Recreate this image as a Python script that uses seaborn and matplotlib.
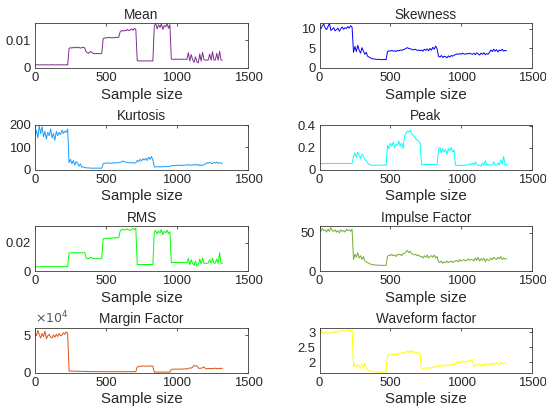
import numpy as np
import pandas as pd
import matplotlib
matplotlib.use("Agg")
import matplotlib.pyplot as plt
import seaborn as sns

# ---------------- data (one value every 10 samples) ----------------
sample_idx = list(range(0, 1321, 10))

mean_vals = [
    0.0011,0.0011,0.0012,0.0011,0.0011,0.0012,0.0011,0.0011,0.0012,0.0011,0.0011,0.0012,
    0.0011,0.0012,0.0011,0.0011,0.0012,0.0011,0.0011,0.0012,0.0011,0.0011,0.0012,0.0011,
    0.0070,0.0073,0.0071,0.0074,0.0072,0.0075,0.0072,0.0074,0.0071,0.0073,0.0074,0.0072,
    0.0058,0.0054,0.0053,0.0059,0.0056,0.0052,0.0051,0.0052,0.0051,0.0052,0.0051,0.0052,
    0.0105,0.0108,0.0107,0.0109,0.0108,0.0110,0.0107,0.0109,0.0108,0.0110,0.0109,0.0111,
    0.0130,0.0134,0.0132,0.0135,0.0133,0.0138,0.0134,0.0136,0.0140,0.0135,0.0142,0.0138,
    0.0026,0.0025,0.0026,0.0025,0.0025,0.0026,0.0025,0.0026,0.0025,0.0025,0.0026,0.0025,
    0.0150,0.0160,0.0140,0.0155,0.0145,0.0158,0.0138,0.0152,0.0147,0.0160,0.0142,0.0155,
    0.0032,0.0031,0.0031,0.0032,0.0031,0.0031,0.0032,0.0031,0.0031,0.0032,0.0031,0.0031,
    0.0055,0.0025,0.0048,0.0030,0.0020,0.0040,0.0022,0.0018,0.0050,0.0025,0.0056,0.0030,
    0.0028,0.0028,0.0029,0.0050,0.0028,0.0058,0.0028,0.0029,0.0052,0.0028,0.0060,0.0029,
    0.0028]

skew_vals = [
    10.5,10.0,10.8,11.2,10.2,9.8,10.6,11.4,9.6,9.9,10.3,9.5,
    9.8,10.2,9.4,10.0,10.5,9.9,10.3,10.1,10.6,10.2,10.8,10.4,
    4.0,5.5,4.2,5.8,4.5,3.8,5.2,4.3,3.5,4.0,3.0,2.8,
    2.6,2.4,2.3,2.3,2.2,2.2,2.2,2.2,2.1,2.2,2.2,2.1,
    4.2,4.4,4.3,4.5,4.3,4.4,4.2,4.5,4.4,4.6,4.5,4.7,
    4.8,5.0,5.2,5.0,4.9,4.8,4.6,4.8,4.7,4.5,4.6,4.4,
    4.6,4.3,4.8,4.5,4.9,4.4,5.0,4.6,5.3,4.8,5.6,4.9,
    3.0,2.8,3.2,2.7,3.0,2.9,2.6,3.1,2.8,3.2,3.0,3.3,
    3.4,3.6,3.5,3.7,3.5,3.8,3.6,3.5,3.7,3.6,3.8,3.6,
    3.5,3.8,3.4,3.9,3.6,3.3,3.8,3.5,3.9,3.4,3.7,3.5,
    4.0,4.6,4.2,4.8,4.3,4.7,4.1,4.6,4.4,4.8,4.3,4.5,
    4.4]

kurt_vals = [
    150,175,140,195,160,190,145,170,135,165,150,180,
    140,160,130,170,150,165,155,175,160,170,165,180,
    30,45,25,40,20,35,28,15,25,10,12,8,
    8,7,7,6,6,6,6,6,6,6,6,6,
    25,28,27,30,28,29,27,30,28,31,29,30,
    32,35,38,34,33,32,30,31,29,30,28,30,
    40,35,45,38,48,42,50,40,55,45,58,42,
    12,11,13,12,11,12,13,12,14,12,13,15,
    16,18,17,19,18,20,17,19,18,20,19,21,
    19,22,18,21,20,23,19,22,17,20,18,22,
    25,30,27,32,28,26,31,29,33,27,30,28,
    28]

peak_vals = [
    0.055,0.056,0.055,0.054,0.055,0.056,0.055,0.055,0.054,0.055,0.056,0.055,
    0.055,0.054,0.055,0.056,0.055,0.055,0.054,0.055,0.056,0.055,0.055,0.054,
    0.12,0.15,0.11,0.16,0.13,0.10,0.14,0.12,0.09,0.08,0.06,0.05,
    0.040,0.040,0.038,0.040,0.040,0.038,0.040,0.040,0.038,0.040,0.040,0.040,
    0.22,0.19,0.24,0.21,0.25,0.20,0.23,0.22,0.26,0.21,0.24,0.19,
    0.30,0.33,0.35,0.34,0.36,0.33,0.31,0.30,0.28,0.27,0.26,0.24,
    0.045,0.045,0.046,0.045,0.044,0.045,0.046,0.045,0.045,0.044,0.045,0.046,
    0.18,0.20,0.15,0.19,0.16,0.18,0.14,0.19,0.17,0.20,0.16,0.18,
    0.040,0.035,0.040,0.035,0.040,0.040,0.035,0.040,0.045,0.040,0.050,0.045,
    0.060,0.040,0.070,0.050,0.035,0.040,0.030,0.060,0.040,0.080,0.040,0.050,
    0.040,0.040,0.045,0.070,0.040,0.040,0.060,0.040,0.090,0.050,0.120,0.040,
    0.045]

rms_vals = [
    0.0031,0.0031,0.0031,0.0031,0.0031,0.0031,0.0031,0.0031,0.0031,0.0031,0.0031,0.0031,
    0.0031,0.0031,0.0031,0.0031,0.0031,0.0031,0.0031,0.0031,0.0031,0.0031,0.0031,0.0031,
    0.0128,0.0130,0.0129,0.0131,0.0130,0.0130,0.0129,0.0131,0.0130,0.0129,0.0130,0.0131,
    0.0092,0.0088,0.0090,0.0098,0.0093,0.0089,0.0087,0.0088,0.0087,0.0088,0.0087,0.0088,
    0.0228,0.0232,0.0230,0.0234,0.0231,0.0235,0.0232,0.0236,0.0233,0.0238,0.0235,0.0240,
    0.0285,0.0292,0.0298,0.0290,0.0295,0.0300,0.0292,0.0288,0.0296,0.0302,0.0294,0.0305,
    0.0046,0.0046,0.0046,0.0046,0.0046,0.0046,0.0046,0.0046,0.0046,0.0046,0.0046,0.0046,
    0.0275,0.0290,0.0262,0.0285,0.0270,0.0295,0.0258,0.0282,0.0272,0.0290,0.0265,0.0280,
    0.0060,0.0060,0.0060,0.0060,0.0060,0.0060,0.0060,0.0060,0.0060,0.0060,0.0060,0.0060,
    0.0090,0.0045,0.0080,0.0055,0.0040,0.0070,0.0035,0.0045,0.0085,0.0050,0.0092,0.0055,
    0.0055,0.0055,0.0056,0.0080,0.0055,0.0090,0.0055,0.0056,0.0085,0.0055,0.0130,0.0056,
    0.0055]

impulse_vals = [
    55,52,56,53,54,51,55,52,57,53,52,54,
    51,53,50,54,52,53,51,55,53,54,52,55,
    15,22,18,24,17,20,15,19,13,12,11,10,
    9,8.5,8,8,7.8,7.5,7.5,7.5,7.3,7.5,7.4,7.5,
    19,21,20,22,20,21,19,22,21,22,20,23,
    23,25,27,24,26,23,22,21,22,20,21,19,
    19,17,20,18,21,17,19,20,18,21,17,19,
    12,11,13,10,12,11,13,11,12,13,11,13,
    13,14,12,15,13,14,15,13,14,16,14,15,
    15,13,17,14,18,13,16,14,17,12,16,14,
    14,17,15,18,16,15,18,16,19,15,17,16,
    16]

margin_vals = [
    53000,49000,56000,50000,46000,52000,48000,55000,45000,49000,51000,47000,
    46000,50000,47000,51000,48000,52000,49000,50000,53000,51000,54000,52000,
    2000,1800,1900,1700,1800,1600,1700,1500,1600,1500,1400,1500,
    1300,1200,1300,1200,1200,1100,1200,1100,1100,1200,1100,1100,
    1000,1100,1000,1100,1000,1000,1100,1000,1000,1100,1000,1000,
    1000,1000,1100,1000,1000,1100,1000,1000,1100,1000,1000,1100,
    7500,8000,8500,8200,8800,8400,8600,8300,8700,8500,8800,8400,
    500,500,600,500,500,600,500,500,600,500,500,600,
    4000,4500,4200,4700,4400,4600,4300,4800,4500,4700,5000,4600,
    5500,6200,5800,7000,9500,8500,9000,6000,5500,5800,6200,7500,
    5200,4800,5500,5000,5600,4900,5300,5800,5000,5500,5200,5700,
    5500]

waveform_vals = [
    3.00,2.95,3.05,2.92,2.98,3.02,2.94,2.99,2.96,3.01,2.97,3.03,
    2.98,3.03,3.00,3.05,3.02,3.06,3.01,3.07,3.04,3.08,3.02,3.06,
    1.85,1.95,1.80,1.92,1.88,1.78,1.94,1.82,1.98,1.80,1.74,1.72,
    1.70,1.69,1.68,1.68,1.68,1.67,1.68,1.67,1.68,1.67,1.68,1.67,
    2.20,2.25,2.22,2.28,2.24,2.27,2.23,2.30,2.26,2.31,2.28,2.33,
    2.30,2.34,2.36,2.32,2.38,2.33,2.36,2.31,2.34,2.29,2.32,2.28,
    1.80,1.78,1.82,1.79,1.81,1.80,1.83,1.80,1.85,1.82,1.86,1.84,
    1.88,1.85,1.90,1.87,1.92,1.89,1.91,1.88,1.93,1.90,1.95,1.92,
    1.96,2.00,1.98,2.02,1.99,2.04,2.01,2.03,2.00,2.06,2.03,2.08,
    2.05,1.85,1.92,1.88,1.95,1.90,1.86,1.93,1.89,1.96,1.91,1.94,
    1.92,1.97,1.90,1.98,1.93,2.00,1.92,1.97,1.95,2.01,1.94,1.98,
    1.95]

titles = ["Mean", "Skewness", "Kurtosis", "Peak", "RMS", "Impulse Factor",
          "Margin Factor", "Waveform factor"]
series = [mean_vals, skew_vals, kurt_vals, peak_vals, rms_vals, impulse_vals,
          margin_vals, waveform_vals]
colors = ["#7E2F8E", "#0000FF", "#1A9CFF", "#00FFFF", "#00FF00", "#77AC30",
          "#D95319", "#FFFF00"]
y_limits = [(0, 0.0161), (0, 11.5), (0, 200), (0, 0.41), (0, 0.032), (0, 59),
            (0, 60000), (1.66, 3.15)]
y_ticks = [[0, 0.01], [0, 5, 10], [0, 100, 200], [0, 0.2, 0.4], [0, 0.02], [0, 50],
           [0, 50000], [2, 2.5, 3]]
y_ticklabels = [["0", "0.01"], ["0", "5", "10"], ["0", "100", "200"], ["0", "0.2", "0.4"],
                ["0", "0.02"], ["0", "50"], ["0", "5"], ["2", "2.5", "3"]]
x_ticks = [0, 500, 1000, 1500]
x_ticklabels = ["0", "500", "1000", "1500"]
x_label = "Sample size"

# ---------------- style ----------------
sns.set_theme(style="white")
plt.rcParams["font.family"] = ["Liberation Sans", "DejaVu Sans"]
text_col = "#262626"
edge_col = "#3a3a3a"

fig = plt.figure(figsize=(5.46, 4.08), dpi=100)
W, H = 546.0, 408.0
col_left = [35.0, 319.5]
col_width = [213.0, 212.5]
row_top = [23.0, 124.5, 226.0, 327.5]
ax_h = 45.0

for i, (title, vals, c) in enumerate(zip(titles, series, colors)):
    r, cidx = divmod(i, 2)
    rect = [col_left[cidx] / W, 1 - (row_top[r] + ax_h) / H, col_width[cidx] / W, ax_h / H]
    ax = fig.add_axes(rect)
    df = pd.DataFrame({"x": sample_idx, "y": vals})
    sns.lineplot(data=df, x="x", y="y", ax=ax, color=c, linewidth=0.7, estimator=None)
    ax.set_xlim(0, 1500)
    ax.set_ylim(*y_limits[i])
    ax.set_xticks(x_ticks)
    ax.set_xticklabels(x_ticklabels)
    ax.set_yticks(y_ticks[i])
    ax.set_yticklabels(y_ticklabels[i])
    ax.tick_params(direction="in", length=2.5, width=0.6, colors=edge_col,
                   labelcolor=text_col, labelsize=9.4, pad=3,
                   top=True, right=True)
    for sp in ax.spines.values():
        sp.set_visible(True)
        sp.set_color(edge_col)
        sp.set_linewidth(0.6)
    ax.set_title(title, fontsize=9.8, color=text_col, pad=3)
    ax.set_xlabel(x_label, fontsize=10.8, color=text_col, labelpad=2.5)
    ax.set_ylabel("")
    ax.grid(False)
    if title == "Margin Factor":
        ax.text(0.0, 1.03, r"$\times10^{4}$", transform=ax.transAxes, fontsize=9,
                color="#555555", ha="left", va="bottom")

fig.savefig("out.png", dpi=100)
